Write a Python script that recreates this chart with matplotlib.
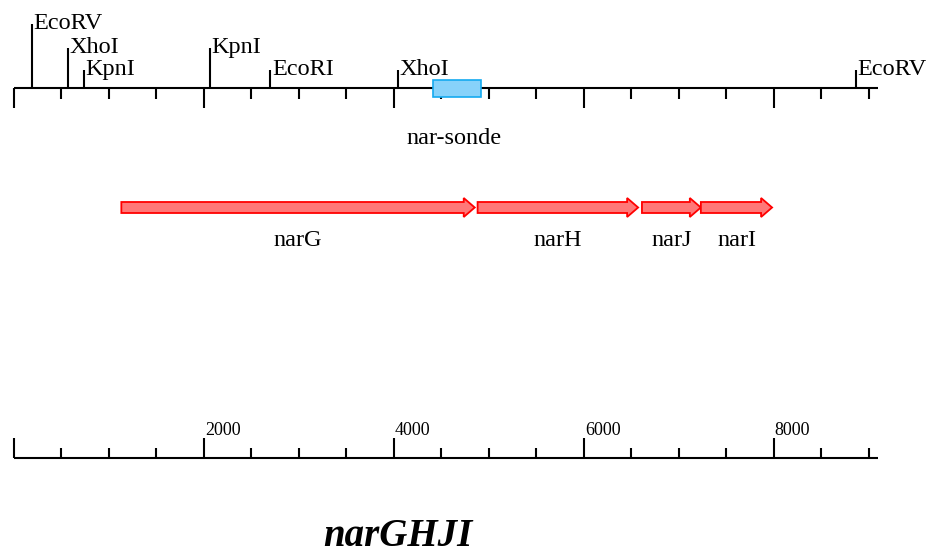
"""
narGHJI restriction map
=======================
Restriction sites and the nar-sonde probe on a bp scale, the four nar genes
as arrows below, and a plain bp ruler at the bottom.
"""

import matplotlib.pyplot as plt
from matplotlib.patches import FancyArrow, Rectangle
import numpy as np

plt.rcParams["font.family"] = ["Liberation Serif", "DejaVu Serif"]

# ---------------------------------------------------------------------------
# Data (bp)
# ---------------------------------------------------------------------------
site_names = ["EcoRV", "XhoI", "KpnI", "KpnI", "EcoRI", "XhoI", "EcoRV"]
site_pos = [190, 570, 740, 2060, 2700, 4040, 8860]

probe_name = "nar-sonde"
probe_start = 4410
probe_end = 4915

gene_names = ["narG", "narH", "narJ", "narI"]
gene_start = [1130, 4880, 6610, 7230]
gene_end = [4850, 6570, 7230, 7980]

scale_end = 9090
major_step = 2000
minor_step = 500

title = "narGHJI"

# ---------------------------------------------------------------------------
# Layout (y in pixels from the top of the figure)
# ---------------------------------------------------------------------------
W, H = 937, 557
PX_PER_BP = 0.095
X0_PX = 14

MAP_Y = 88
SITE_TOPS = [24, 48, 70]          # stacking level 0..2
site_level = [0, 1, 2, 1, 2, 2, 2]
GENE_Y = 207.5
GENE_LABEL_Y = 246
RULER_Y = 458

LINE_W = 1.5
LABEL_SIZE = 17.5
RED_FACE = "#ff7878"
RED_EDGE = "#ff0000"
BLUE_FACE = "#87d2fa"
BLUE_EDGE = "#14aaf0"


def main():
    fig = plt.figure(figsize=(W / 100, H / 100), dpi=100)
    ax = fig.add_axes([0, 0, 1, 1])
    ax.set_xlim(-X0_PX / PX_PER_BP, (W - X0_PX) / PX_PER_BP)
    ax.set_ylim(H, 0)
    ax.axis("off")

    majors = np.arange(0, scale_end + 1, major_step)
    minors = np.arange(0, scale_end + 1, minor_step)

    # --- top map line with ticks pointing down
    ax.plot([0, scale_end], [MAP_Y, MAP_Y], color="black", lw=LINE_W,
            solid_capstyle="butt")
    for t in minors:
        ln = 20 if t % major_step == 0 else 11
        ax.plot([t, t], [MAP_Y, MAP_Y + ln], color="black", lw=LINE_W,
                solid_capstyle="butt")

    # --- restriction sites
    for name, pos, lvl in zip(site_names, site_pos, site_level):
        top = SITE_TOPS[lvl]
        ax.plot([pos, pos], [MAP_Y, top], color="black", lw=LINE_W,
                solid_capstyle="butt")
        ax.text(pos + 15, top + 5, name, fontsize=LABEL_SIZE, ha="left",
                va="baseline")

    # --- probe
    ax.add_patch(Rectangle((probe_start, MAP_Y - 8.5), probe_end - probe_start,
                           17, facecolor=BLUE_FACE, edgecolor=BLUE_EDGE,
                           lw=1.2, zorder=3))
    ax.text((probe_start + probe_end) / 2 - 30, 144, probe_name,
            fontsize=LABEL_SIZE, ha="center", va="baseline")

    # --- genes
    for name, s, e in zip(gene_names, gene_start, gene_end):
        ax.add_patch(FancyArrow(s, GENE_Y, e - s, 0, width=11, head_width=19,
                                head_length=116, length_includes_head=True,
                                facecolor=RED_FACE, edgecolor=RED_EDGE,
                                lw=1.3))
        ax.text((s + e) / 2, GENE_LABEL_Y, name, fontsize=LABEL_SIZE,
                ha="center", va="baseline")

    # --- bottom ruler with ticks pointing up
    ax.plot([0, scale_end], [RULER_Y, RULER_Y], color="black", lw=LINE_W,
            solid_capstyle="butt")
    for t in minors:
        ln = 20 if t % major_step == 0 else 10
        ax.plot([t, t], [RULER_Y, RULER_Y - ln], color="black", lw=LINE_W,
                solid_capstyle="butt")
    for t in majors[1:]:
        ax.text(t + 8, RULER_Y - 23, f"{t}", fontsize=13, ha="left",
                va="baseline")

    ax.text(4040, 546, title, fontsize=28, fontweight="bold",
            fontstyle="italic", ha="center", va="baseline")

    fig.savefig("out.png", dpi=100)
    plt.close(fig)


if __name__ == "__main__":
    main()
